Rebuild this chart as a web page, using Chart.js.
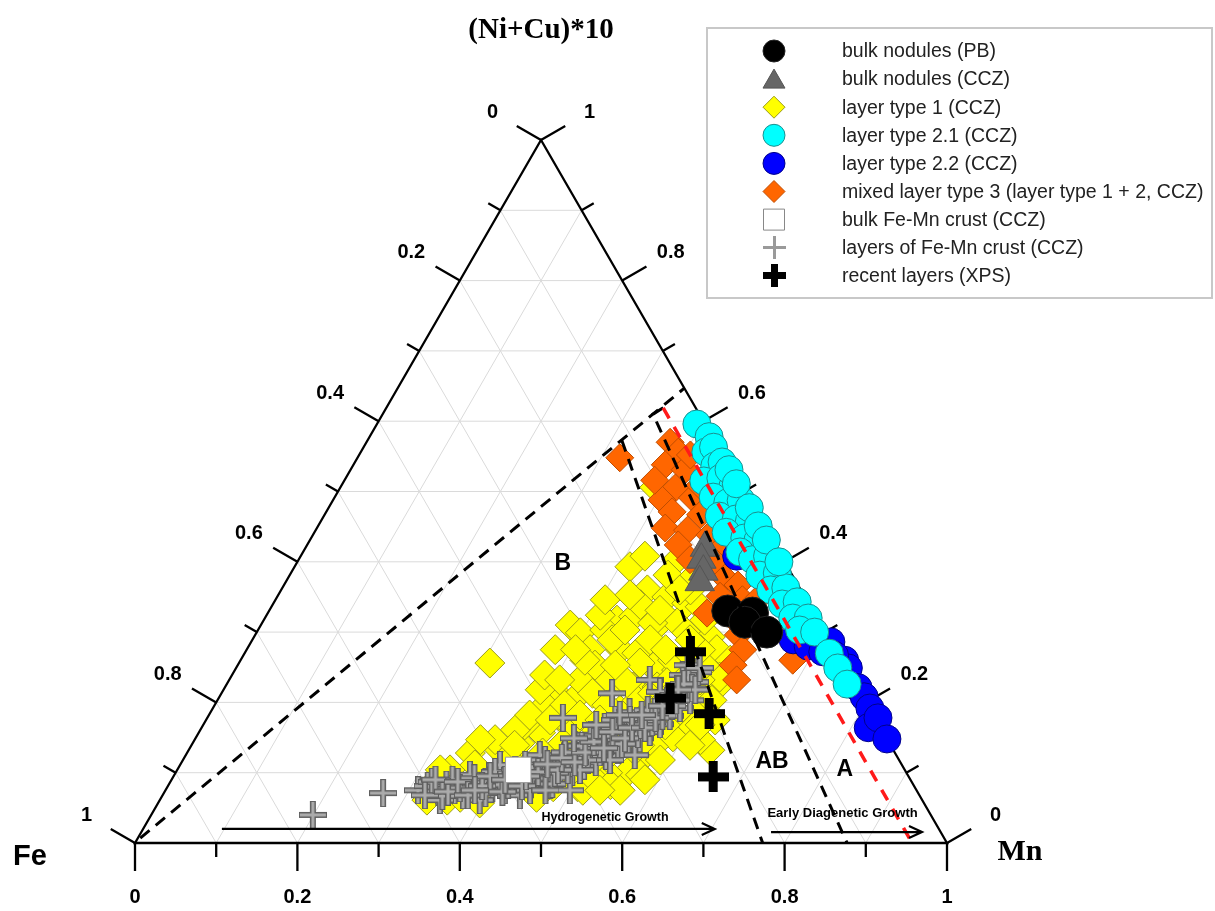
<!DOCTYPE html>
<html><head><meta charset="utf-8">
<script src="https://cdn.jsdelivr.net/npm/chart.js@4.4.1/dist/chart.umd.min.js"></script>
<style>html,body{margin:0;padding:0;background:#fff;overflow:hidden}canvas{display:block}</style>
</head><body>
<canvas id="c" width="1215" height="911"></canvas>
<script>
// Ternary compositions as [Mn, (Ni+Cu)*10]; Fe = 1 - Mn - (Ni+Cu)*10
const bulkNodulesPB = [[0.565,0.330],[0.597,0.327],[0.594,0.314],[0.628,0.300]];
const bulkNodulesCCZ = [[0.492,0.420],[0.496,0.403],[0.507,0.386],[0.510,0.371]];
const layerType1 = [[0.309,0.256],[0.387,0.506],[0.413,0.393],[0.424,0.408],[0.451,0.360],[0.480,0.350],[0.509,0.341],[0.528,0.336],[0.435,0.317],[0.453,0.322],[0.490,0.313],[0.511,0.313],[0.530,0.299],[0.562,0.293],[0.579,0.275],[0.603,0.260],[0.608,0.242],[0.606,0.222],[0.603,0.203],[0.600,0.185],[0.597,0.165],[0.587,0.151],[0.642,0.132],[0.460,0.275],[0.483,0.270],[0.513,0.250],[0.544,0.246],[0.481,0.232],[0.502,0.222],[0.532,0.222],[0.381,0.310],[0.399,0.299],[0.427,0.303],[0.481,0.313],[0.494,0.256],[0.532,0.260],[0.602,0.236],[0.592,0.175],[0.570,0.137],[0.563,0.118],[0.556,0.100],[0.532,0.100],[0.505,0.080],[0.475,0.080],[0.462,0.065],[0.413,0.080],[0.389,0.090],[0.349,0.128],[0.383,0.132],[0.403,0.142],[0.421,0.157],[0.406,0.218],[0.438,0.203],[0.432,0.232],[0.457,0.213],[0.463,0.236],[0.482,0.165],[0.453,0.165],[0.503,0.189],[0.517,0.203],[0.492,0.228],[0.531,0.213],[0.541,0.228],[0.575,0.185],[0.605,0.165],[0.623,0.147],[0.514,0.075],[0.323,0.080],[0.329,0.061],[0.354,0.061],[0.368,0.065],[0.396,0.057],[0.438,0.128],[0.456,0.142],[0.520,0.147],[0.520,0.122],[0.535,0.157],[0.555,0.175],[0.512,0.097],[0.423,0.275],[0.407,0.196],[0.466,0.403],[0.466,0.381],[0.504,0.360],[0.543,0.317],[0.428,0.104],[0.472,0.104],[0.507,0.118],[0.540,0.189],[0.551,0.203],[0.403,0.118],[0.353,0.083],[0.580,0.232],[0.550,0.267],[0.575,0.253],[0.483,0.196],[0.432,0.182],[0.396,0.168],[0.411,0.324],[0.453,0.339],[0.481,0.331],[0.491,0.360],[0.499,0.381],[0.443,0.289],[0.490,0.289],[0.559,0.275],[0.440,0.253],[0.465,0.253],[0.516,0.275],[0.539,0.289],[0.431,0.196],[0.457,0.182],[0.485,0.175],[0.552,0.139],[0.569,0.168],[0.614,0.139],[0.544,0.083],[0.574,0.097],[0.588,0.118],[0.336,0.104],[0.363,0.111],[0.370,0.147],[0.388,0.161],[0.390,0.218],[0.380,0.275],[0.385,0.239],[0.407,0.232],[0.424,0.260],[0.406,0.346],[0.433,0.353],[0.609,0.203],[0.627,0.175],[0.612,0.168],[0.560,0.075],[0.583,0.090],[0.535,0.075],[0.395,0.182],[0.398,0.139],[0.424,0.175],[0.405,0.275],[0.452,0.303],[0.352,0.147],[0.324,0.104]];
const layerType21 = [[0.394,0.596],[0.418,0.578],[0.425,0.556],[0.431,0.563],[0.446,0.536],[0.452,0.542],[0.443,0.515],[0.462,0.519],[0.483,0.506],[0.466,0.492],[0.488,0.484],[0.503,0.487],[0.487,0.465],[0.510,0.461],[0.528,0.457],[0.507,0.442],[0.534,0.434],[0.552,0.430],[0.538,0.414],[0.559,0.403],[0.575,0.408],[0.579,0.381],[0.599,0.384],[0.603,0.360],[0.620,0.363],[0.627,0.340],[0.644,0.343],[0.650,0.320],[0.669,0.320],[0.667,0.303],[0.687,0.300],[0.720,0.270],[0.741,0.249],[0.764,0.226],[0.466,0.531],[0.485,0.511],[0.518,0.477],[0.542,0.451],[0.562,0.431],[0.593,0.400]];
const layerType22 = [[0.537,0.408],[0.666,0.289],[0.689,0.280],[0.714,0.286],[0.744,0.260],[0.754,0.249],[0.780,0.221],[0.794,0.208],[0.809,0.192],[0.821,0.164],[0.826,0.178],[0.852,0.148],[0.711,0.272],[0.728,0.267]];
const mixedLayer3 = [[0.323,0.548],[0.374,0.570],[0.391,0.556],[0.384,0.538],[0.412,0.531],[0.413,0.505],[0.405,0.488],[0.441,0.491],[0.426,0.471],[0.463,0.467],[0.429,0.448],[0.458,0.445],[0.489,0.438],[0.457,0.424],[0.513,0.420],[0.514,0.400],[0.538,0.377],[0.559,0.367],[0.545,0.351],[0.575,0.346],[0.571,0.324],[0.541,0.327],[0.595,0.296],[0.611,0.275],[0.610,0.253],[0.625,0.232],[0.593,0.346],[0.680,0.260],[0.441,0.509],[0.382,0.516],[0.408,0.552],[0.482,0.403],[0.596,0.310]];
const bulkCrust = [[0.420,0.104]];
const crustLayers = [[0.199,0.040],[0.270,0.071],[0.311,0.075],[0.320,0.081],[0.337,0.073],[0.342,0.083],[0.356,0.075],[0.370,0.068],[0.372,0.081],[0.385,0.075],[0.388,0.087],[0.401,0.078],[0.403,0.093],[0.418,0.075],[0.421,0.087],[0.426,0.095],[0.442,0.084],[0.441,0.104],[0.454,0.090],[0.458,0.101],[0.462,0.111],[0.477,0.093],[0.473,0.115],[0.488,0.101],[0.484,0.124],[0.498,0.110],[0.494,0.132],[0.510,0.115],[0.505,0.139],[0.518,0.124],[0.514,0.147],[0.529,0.132],[0.521,0.158],[0.537,0.141],[0.531,0.166],[0.547,0.149],[0.541,0.175],[0.555,0.158],[0.547,0.186],[0.562,0.169],[0.555,0.195],[0.568,0.181],[0.562,0.206],[0.575,0.192],[0.569,0.218],[0.582,0.203],[0.575,0.229],[0.572,0.243],[0.555,0.239],[0.518,0.232],[0.481,0.213],[0.438,0.178],[0.496,0.165],[0.436,0.125],[0.472,0.139],[0.504,0.175],[0.516,0.186],[0.539,0.215],[0.554,0.253],[0.364,0.097],[0.425,0.111],[0.484,0.154],[0.470,0.083],[0.440,0.068],[0.394,0.061],[0.345,0.061],[0.498,0.075],[0.553,0.125],[0.394,0.111],[0.322,0.087],[0.345,0.067],[0.346,0.090],[0.361,0.078],[0.372,0.092],[0.396,0.071],[0.393,0.101],[0.418,0.083],[0.416,0.104],[0.443,0.092],[0.446,0.118],[0.472,0.084],[0.465,0.129],[0.481,0.104],[0.481,0.138],[0.499,0.118],[0.494,0.152],[0.508,0.129],[0.509,0.164],[0.529,0.141],[0.522,0.175],[0.542,0.155],[0.537,0.189],[0.551,0.172],[0.552,0.209],[0.564,0.195],[0.564,0.235],[0.576,0.220],[0.496,0.104],[0.467,0.100],[0.449,0.075],[0.408,0.083],[0.526,0.118],[0.538,0.168],[0.506,0.182],[0.559,0.181],[0.323,0.068],[0.325,0.090],[0.349,0.073],[0.354,0.087],[0.376,0.068],[0.387,0.081],[0.390,0.095],[0.416,0.073],[0.417,0.095],[0.436,0.081],[0.446,0.101],[0.468,0.075],[0.469,0.104],[0.465,0.121],[0.484,0.115],[0.490,0.129],[0.493,0.144],[0.510,0.135],[0.509,0.158],[0.529,0.149],[0.530,0.164],[0.546,0.164],[0.552,0.178],[0.552,0.195],[0.565,0.203],[0.563,0.226],[0.581,0.218],[0.571,0.249],[0.560,0.218],[0.533,0.182],[0.484,0.168],[0.466,0.149],[0.452,0.112],[0.434,0.095],[0.411,0.090],[0.381,0.075]];
const recentLayers = [[0.548,0.272],[0.556,0.206],[0.615,0.184],[0.665,0.094]];

// Field boundaries (dashed) as ternary polylines
const boundaryB = [[0.003,0.007],[0.353,0.647]];
const boundaryAB_left = [[0.313,0.573],[0.773,0.0]];
const boundaryAB_right = [[0.341,0.619],[0.333,0.610],[0.877,0.0]];
const boundaryA_red = [[0.341,0.619],[0.957,0.0]];

// Tick labels
const bottomTickLabels = ['0','0.2','0.4','0.6','0.8','1'];
const leftTickLabels = ['0','0.2','0.4','0.6','0.8','1'];
const rightTickLabels = ['0','0.2','0.4','0.6','0.8','1'];

const seriesNames = ['bulk nodules (PB)','bulk nodules (CCZ)','layer type 1 (CCZ)','layer type 2.1 (CCZ)','layer type 2.2 (CCZ)','mixed layer type 3 (layer type 1 + 2, CCZ)','bulk Fe-Mn crust (CCZ)','layers of Fe-Mn crust (CCZ)','recent layers (XPS)'];

const SANS = '"Liberation Sans", Arial, Helvetica, sans-serif';
const SERIF = '"Liberation Serif", "Times New Roman", serif';

const toXY = p => ({x: p[0] + p[1]/2, y: p[1]});

function makeCross(size, arm, outer, inner, innerW){
  const c = document.createElement('canvas'); c.width = size; c.height = size;
  const g = c.getContext('2d'); const h = size/2;
  g.fillStyle = outer;
  g.fillRect(0, h-arm/2, size, arm); g.fillRect(h-arm/2, 0, arm, size);
  if (inner){ g.fillStyle = inner;
    g.fillRect(1, h-innerW/2, size-2, innerW); g.fillRect(h-innerW/2, 1, innerW, size-2); }
  return c;
}
const grayCross = makeCross(28, 6, '#5e5e5e', '#ababab', 3);
const blackCross = makeCross(31, 9, '#000');
const legendGrayCross = makeCross(23, 3, '#9a9a9a');
const legendBlackCross = makeCross(23, 7, '#000');

function pts(ds){ return ds.map(toXY); }

const datasets = [
  {label:'bA', data:pts(boundaryA_red), showLine:true, borderColor:'#ff1a1a', borderWidth:3.5, borderDash:[12,10], pointRadius:0, order:0},
  {label:'bB', data:pts(boundaryB), showLine:true, borderColor:'#000', borderWidth:3, borderDash:[12,8], pointRadius:0, order:0},
  {label:'bAB1', data:pts(boundaryAB_left), showLine:true, borderColor:'#000', borderWidth:3, borderDash:[12,8], pointRadius:0, order:0},
  {label:'bAB2', data:pts(boundaryAB_right), showLine:true, borderColor:'#000', borderWidth:3, borderDash:[12,8], pointRadius:0, order:0},
  {label:seriesNames[8], data:pts(recentLayers), pointStyle:blackCross, pointRadius:15, order:1},
  {label:seriesNames[0], data:pts(bulkNodulesPB), pointStyle:'circle', pointRadius:16, backgroundColor:'#000', borderColor:'#222', borderWidth:1, order:2},
  {label:seriesNames[1], data:pts(bulkNodulesCCZ), pointStyle:'triangle', pointRadius:17, backgroundColor:'#666', borderColor:'#555', borderWidth:1, order:3},
  {label:seriesNames[6], data:pts(bulkCrust), pointStyle:'rect', pointRadius:18, backgroundColor:'#fff', borderColor:'#999', borderWidth:1, order:4},
  {label:seriesNames[7], data:pts(crustLayers), pointStyle:grayCross, pointRadius:14, order:5},
  {label:seriesNames[3], data:pts(layerType21), pointStyle:'circle', pointRadius:14, backgroundColor:'#00ffff', borderColor:'#1b8e8e', borderWidth:1, order:6},
  {label:seriesNames[4], data:pts(layerType22), pointStyle:'circle', pointRadius:14, backgroundColor:'#0000ff', borderColor:'#00008a', borderWidth:1, order:7},
  {label:seriesNames[5], data:pts(mixedLayer3), pointStyle:'rectRot', pointRadius:14, backgroundColor:'#ff6600', borderColor:'#c04d00', borderWidth:1, order:8},
  {label:seriesNames[2], data:pts(layerType1), pointStyle:'rectRot', pointRadius:15, backgroundColor:'#ffff00', borderColor:'#9a9a1a', borderWidth:1, order:9}
];

const XMIN = -135/812, XMAX = (1215-135)/812;
const YMIN = -68/703, YMAX = 843/703;

const legendItems = [
  {style:'circle', fill:'#000', stroke:'#222'},
  {style:'triangle', fill:'#666', stroke:'#555'},
  {style:'diamond', fill:'#ffff00', stroke:'#9a9a1a'},
  {style:'circle', fill:'#00ffff', stroke:'#1b8e8e'},
  {style:'circle', fill:'#0000ff', stroke:'#00008a'},
  {style:'diamond', fill:'#ff6600', stroke:'#c04d00'},
  {style:'square', fill:'#fff', stroke:'#888'},
  {style:'img', img:legendGrayCross},
  {style:'img', img:legendBlackCross}
];

const ternaryPlugin = {
  id:'ternary',
  beforeDatasetsDraw(chart){
    const ctx = chart.ctx;
    const P = (mn,t) => [chart.scales.x.getPixelForValue(mn + t/2), chart.scales.y.getPixelForValue(t)];
    const seg = (a,b) => { ctx.moveTo(a[0],a[1]); ctx.lineTo(b[0],b[1]); };
    ctx.save();
    ctx.strokeStyle = '#dadada'; ctx.lineWidth = 1;
    ctx.beginPath();
    for (let k=1;k<10;k++){ const f=k/10;
      seg(P(0,f),P(1-f,f)); seg(P(f,0),P(f,1-f)); seg(P(1-f,0),P(0,1-f)); }
    ctx.stroke();
    ctx.strokeStyle = '#000'; ctx.lineWidth = 2.3; ctx.lineJoin='miter';
    ctx.beginPath();
    const A=P(0,0), B=P(1,0), C=P(0,1);
    ctx.moveTo(A[0],A[1]); ctx.lineTo(B[0],B[1]); ctx.lineTo(C[0],C[1]); ctx.closePath(); ctx.stroke();
    ctx.lineWidth = 2.3; ctx.beginPath();
    const nL=[-Math.sqrt(3)/2,-0.5], nR=[Math.sqrt(3)/2,-0.5], nB=[0,1];
    for (let k=0;k<=10;k++){ const f=k/10; const len = (k%2===0)?28:14;
      let p=P(f,0); seg(p,[p[0]+nB[0]*len,p[1]+nB[1]*len]);
      p=P(0,1-f); seg(p,[p[0]+nL[0]*len,p[1]+nL[1]*len]);
      p=P(1-f,f); seg(p,[p[0]+nR[0]*len,p[1]+nR[1]*len]);
    }
    ctx.stroke();
    ctx.restore();
  },
  afterDatasetsDraw(chart){
    const ctx = chart.ctx;
    const P = (mn,t) => [chart.scales.x.getPixelForValue(mn + t/2), chart.scales.y.getPixelForValue(t)];
    const nL=[-Math.sqrt(3)/2,-0.5], nR=[Math.sqrt(3)/2,-0.5];
    ctx.save();
    ctx.fillStyle='#000'; ctx.textAlign='center'; ctx.textBaseline='middle';
    ctx.font = 'bold 20px '+SANS;
    for (let i=0;i<6;i++){ const f=i/5;
      let p=P(f,0); ctx.fillText(bottomTickLabels[i], p[0], p[1]+54);
      p=P(0,1-f); ctx.fillText(leftTickLabels[i], p[0]+nL[0]*56, p[1]+nL[1]*56);
      p=P(1-f,f); ctx.fillText(rightTickLabels[i], p[0]+nR[0]*56, p[1]+nR[1]*56);
    }
    ctx.font = 'bold 29px '+SERIF;
    let p=P(0,1); ctx.fillText('(Ni+Cu)*10', p[0], 31);
    ctx.font = 'bold 30px '+SERIF;
    p=P(1,0); ctx.fillText('Mn', p[0]+73, p[1]+9);
    ctx.font = 'bold 29px '+SANS;
    p=P(0,0); ctx.fillText('Fe', p[0]-105, p[1]+14);
    ctx.font = 'bold 23px '+SANS;
    p=P(0.328,0.398); ctx.fillText('B', p[0], p[1]);
    p=P(0.727,0.115); ctx.fillText('AB', p[0], p[1]);
    p=P(0.822,0.104); ctx.fillText('A', p[0], p[1]);
    const arrow=(a,b)=>{ ctx.beginPath(); ctx.moveTo(a[0],a[1]); ctx.lineTo(b[0],b[1]);
      ctx.moveTo(b[0]-13,b[1]-6); ctx.lineTo(b[0],b[1]); ctx.lineTo(b[0]-13,b[1]+6); ctx.stroke(); };
    ctx.strokeStyle='#000'; ctx.lineWidth=2.2;
    arrow(P(0.097,0.020), P(0.704,0.020));
    arrow(P(0.7755,0.0156), P(0.9614,0.0156));
    ctx.font = 'bold 12.5px '+SANS;
    p=P(0.561,0.0356); ctx.fillText('Hydrogenetic Growth', p[0], p[1]);
    ctx.font = 'bold 13px '+SANS;
    p=P(0.850,0.0427); ctx.fillText('Early Diagenetic Growth', p[0], p[1]);
    ctx.strokeStyle='#c8c8c8'; ctx.lineWidth=2;
    ctx.strokeRect(707,28,505,270);
    ctx.font = '19.5px '+SANS; ctx.textAlign='left';
    for (let i=0;i<legendItems.length;i++){
      const it=legendItems[i]; const x=774, y=51+i*28.1;
      ctx.lineWidth=1; ctx.fillStyle=it.fill||'#000'; ctx.strokeStyle=it.stroke||'#000';
      ctx.beginPath();
      if (it.style==='circle'){ ctx.arc(x,y,11,0,Math.PI*2); ctx.fill(); ctx.stroke(); }
      else if (it.style==='triangle'){ ctx.moveTo(x,y-10); ctx.lineTo(x+11,y+9); ctx.lineTo(x-11,y+9); ctx.closePath(); ctx.fill(); ctx.stroke(); }
      else if (it.style==='diamond'){ ctx.moveTo(x,y-11); ctx.lineTo(x+11,y); ctx.lineTo(x,y+11); ctx.lineTo(x-11,y); ctx.closePath(); ctx.fill(); ctx.stroke(); }
      else if (it.style==='square'){ ctx.rect(x-10.5,y-10.5,21,21); ctx.fill(); ctx.stroke(); }
      else if (it.style==='img'){ ctx.drawImage(it.img, Math.round(x-it.img.width/2), Math.round(y-it.img.height/2)); }
      ctx.fillStyle='#222';
      ctx.fillText(seriesNames[i], 842, y+1);
    }
    ctx.restore();
  }
};

new Chart(document.getElementById('c'), {
  type:'scatter',
  data:{datasets},
  options:{
    responsive:false, animation:false, events:[],
    layout:{padding:0, autoPadding:false},
    plugins:{legend:{display:false}, tooltip:{enabled:false}, title:{display:false}},
    scales:{
      x:{type:'linear', min:XMIN, max:XMAX, display:false},
      y:{type:'linear', min:YMIN, max:YMAX, display:false}
    }
  },
  plugins:[ternaryPlugin]
});
</script>
</body></html>
